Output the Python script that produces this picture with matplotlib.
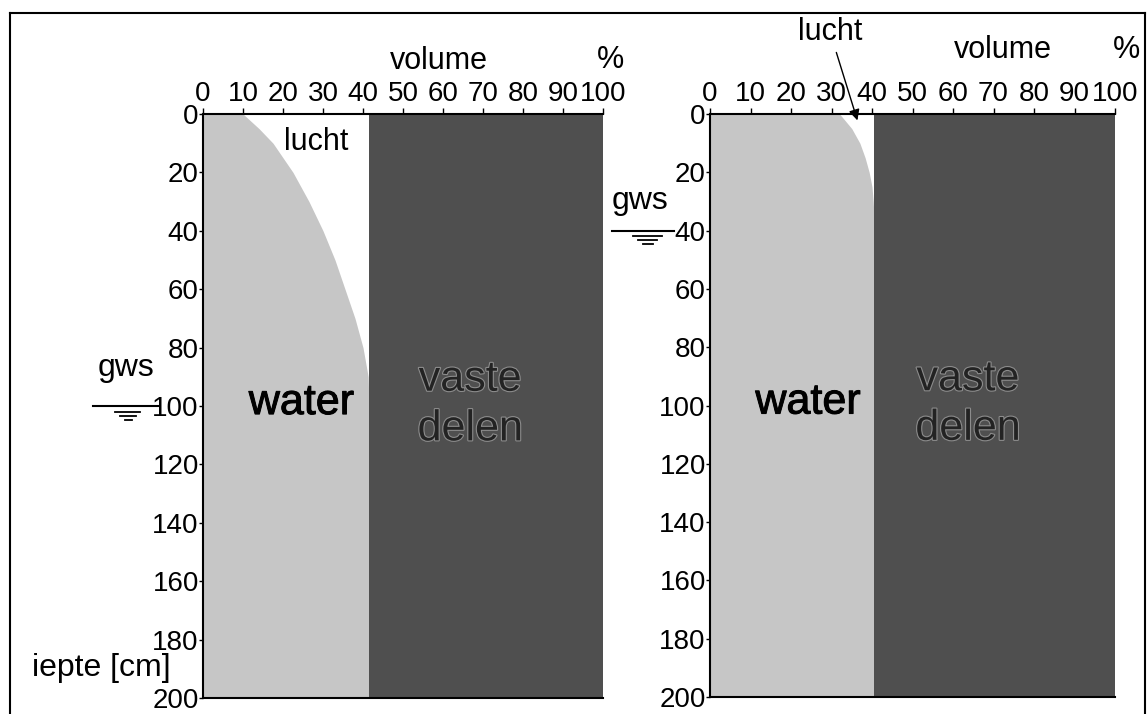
import matplotlib
matplotlib.use("Agg")
import matplotlib.pyplot as plt
import matplotlib.patheffects as pe
from matplotlib.lines import Line2D
from matplotlib.transforms import blended_transform_factory

plt.rcParams['font.family'] = ['Liberation Sans', 'DejaVu Sans']

# ---------------- data ----------------
x_ticks = [0, 10, 20, 30, 40, 50, 60, 70, 80, 90, 100]
y_ticks = [0, 20, 40, 60, 80, 100, 120, 140, 160, 180, 200]

# left profile: groundwater level (gws) at 100 cm
depth_left = [0, 5, 10, 15, 20, 30, 40, 50, 60, 70, 80, 90, 100, 200]
water_left = [10, 14, 17.5, 20, 22.5, 26.5, 30, 33, 35.5, 38, 40, 41.3, 41.5, 41.5]
pore_left = 41.5
gws_left = 100

# right profile: groundwater level (gws) at 40 cm
depth_right = [0, 5, 10, 15, 20, 25, 30, 35, 200]
water_right = [32, 35, 37, 38.3, 39.3, 40, 40.3, 40.5, 40.5]
pore_right = 40.5
gws_right = 40

WATER_C = '#c6c6c6'
SOLID_C = '#4f4f4f'

W, H = 1148, 714
fig = plt.figure(figsize=(W / 100, H / 100), dpi=100)


def fx(px):
    return px / W


def fy(py):
    return 1 - py / H


def make_axes(x0, x1, y0, y1):
    return fig.add_axes([fx(x0), fy(y1), fx(x1) - fx(x0), (y1 - y0) / H])


axL = make_axes(203, 603, 114, 698)
axR = make_axes(710, 1115, 114, 697)


def draw_profile(ax, depth, water, pore):
    ax.fill_betweenx(depth, 0, water, color=WATER_C, lw=0)
    ax.fill_betweenx([0, 200], pore, 100, color=SOLID_C, lw=0)
    ax.set_xlim(0, 100)
    ax.set_ylim(200, 0)
    ax.xaxis.tick_top()
    ax.set_xticks(x_ticks)
    ax.set_xticklabels([str(v) for v in x_ticks])
    ax.set_yticks(y_ticks)
    ax.set_yticklabels([str(v) for v in y_ticks])
    ax.tick_params(axis='x', labelsize=20, direction='out', length=4, width=1, pad=1)
    ax.tick_params(axis='y', labelsize=20, direction='out', length=3, width=1, pad=0)
    for s in ['top', 'left', 'bottom']:
        ax.spines[s].set_linewidth(1.5)
        ax.spines[s].set_color('black')
    ax.spines['right'].set_visible(False)
    ax.set_facecolor('white')


draw_profile(axL, depth_left, water_left, pore_left)
draw_profile(axR, depth_right, water_right, pore_right)

emb = [pe.withStroke(linewidth=1.6, foreground='#8c8c8c')]
heavy = [pe.withStroke(linewidth=0.7, foreground='black')]

# labels inside panels
axL.text(24.6, 99, 'water', fontsize=31, ha='center', va='center', color='black', path_effects=heavy)
axR.text(24.2, 99, 'water', fontsize=31, ha='center', va='center', color='black', path_effects=heavy)
for ax, xc in [(axL, 66.8), (axR, 63.7)]:
    ax.text(xc, 91, 'vaste', fontsize=31, ha='center', va='center', color='#232323', path_effects=emb)
    ax.text(xc, 108, 'delen', fontsize=31, ha='center', va='center', color='#232323', path_effects=emb)

axL.text(28.4, 9.5, 'lucht', fontsize=22, ha='center', va='center')

# right "lucht" with arrow
axR.annotate('lucht', xy=(36.4, 2.2), xycoords='data',
             xytext=(fx(830), fy(32)), textcoords='figure fraction',
             fontsize=22, ha='center', va='center',
             arrowprops=dict(arrowstyle='-|>', color='black', lw=1.0,
                             mutation_scale=16, shrinkA=2, shrinkB=0))

# axis titles
fig.text(fx(439), fy(61), 'volume', fontsize=22, ha='center', va='center')
fig.text(fx(610), fy(60), '%', fontsize=22, ha='center', va='center')
fig.text(fx(1003), fy(50), 'volume', fontsize=22, ha='center', va='center')
fig.text(fx(1126), fy(50), '%', fontsize=22, ha='center', va='center')
fig.text(fx(32), fy(668), 'iepte [cm]', fontsize=23, ha='left', va='center')


# groundwater symbols
def gws_symbol(ax, depth, x_main, subs, label_xy):
    tr = blended_transform_factory(fig.transFigure, ax.transData)
    ax.add_line(Line2D([fx(x_main[0]), fx(x_main[1])], [depth, depth],
                       transform=tr, color='black', lw=1.5, clip_on=False))
    for (xa, xb, dd) in subs:
        ax.add_line(Line2D([fx(xa), fx(xb)], [depth + dd, depth + dd],
                           transform=tr, color='black', lw=1.3, clip_on=False))
    fig.text(fx(label_xy[0]), fy(label_xy[1]), 'gws', fontsize=23, ha='center', va='center')


gws_symbol(axL, gws_left, (93, 158), [(115, 140, 2.0), (120, 136, 3.4), (125, 132, 4.8)], (126, 368))
gws_symbol(axR, gws_right, (612, 674), [(633, 662, 1.8), (638, 657, 3.2), (643, 653, 4.6)], (640, 201))

# outer frame
frame_kw = dict(transform=fig.transFigure, color='black', lw=1.5)
fig.add_artist(Line2D([fx(10), fx(10)], [fy(13), fy(714)], **frame_kw))
fig.add_artist(Line2D([fx(10), fx(1145)], [fy(13), fy(13)], **frame_kw))
fig.add_artist(Line2D([fx(1145), fx(1145)], [fy(13), fy(714)], **frame_kw))

fig.savefig('out.png', dpi=100, facecolor='white')
